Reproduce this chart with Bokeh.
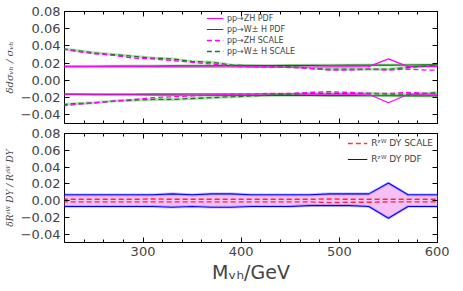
from bokeh.plotting import figure
from bokeh.layouts import column
from bokeh.models import (LinearAxis, FixedTicker, CustomJSTickFormatter, Legend,
                          LegendItem, ColumnDataSource, Range1d)
from bokeh.embed import file_html
from bokeh.resources import INLINE

# ---- data -------------------------------------------------------------
mvh = [210, 230, 250, 270, 290, 310, 330, 350, 370, 390, 410,
       430, 450, 470, 490, 510, 530, 550, 570, 590, 610]

zh_pdf_up = [0.016, 0.016, 0.016, 0.016, 0.0159, 0.0158, 0.0157, 0.0156, 0.0156, 0.0156, 0.0155,
             0.0155, 0.0155, 0.0156, 0.0157, 0.0158, 0.016, 0.025, 0.016, 0.016, 0.016]
zh_pdf_lo = [-0.016, -0.016, -0.016, -0.016, -0.0159, -0.0157, -0.0156, -0.0155, -0.0155, -0.0156, -0.0156,
             -0.0157, -0.0157, -0.0158, -0.0159, -0.016, -0.016, -0.026, -0.016, -0.016, -0.016]
wh_pdf_up = [0.0162, 0.0163, 0.0164, 0.0165, 0.0166, 0.0167, 0.0168, 0.0169, 0.017, 0.0171, 0.0172,
             0.0173, 0.0174, 0.0175, 0.0176, 0.0177, 0.0178, 0.0178, 0.0179, 0.018, 0.018]
wh_pdf_lo = [-0.0162, -0.0163, -0.0164, -0.0165, -0.0166, -0.0167, -0.0168, -0.0169, -0.017, -0.0171, -0.0172,
             -0.0173, -0.0174, -0.0175, -0.0176, -0.0177, -0.0178, -0.0178, -0.0179, -0.018, -0.018]
zh_scale_up = [0.038, 0.034, 0.031, 0.029, 0.026, 0.025, 0.023, 0.021, 0.019, 0.017, 0.016,
               0.016, 0.015, 0.014, 0.012, 0.012, 0.013, 0.012, 0.013, 0.012, 0.012]
zh_scale_lo = [-0.031, -0.028, -0.026, -0.024, -0.022, -0.020, -0.019, -0.018, -0.017, -0.016, -0.016,
               -0.015, -0.015, -0.014, -0.013, -0.014, -0.015, -0.015, -0.014, -0.015, -0.016]
wh_scale_up = [0.038, 0.035, 0.032, 0.030, 0.028, 0.026, 0.025, 0.022, 0.021, 0.018, 0.017,
               0.016, 0.016, 0.014, 0.013, 0.013, 0.013, 0.013, 0.015, 0.017, 0.019]
wh_scale_lo = [-0.029, -0.027, -0.026, -0.024, -0.023, -0.022, -0.022, -0.021, -0.020, -0.019, -0.018,
               -0.017, -0.016, -0.015, -0.015, -0.015, -0.015, -0.016, -0.016, -0.015, -0.013]

r_pdf_up = [0.007, 0.007, 0.007, 0.007, 0.007, 0.007, 0.008, 0.007, 0.008, 0.008, 0.007,
            0.007, 0.007, 0.007, 0.008, 0.008, 0.008, 0.021, 0.007, 0.007, 0.007]
r_pdf_lo = [-0.007, -0.007, -0.007, -0.007, -0.007, -0.007, -0.008, -0.007, -0.008, -0.008, -0.007,
            -0.007, -0.007, -0.006, -0.006, -0.006, -0.007, -0.021, -0.007, -0.007, -0.007]
r_scale_up = [0.0015, 0.0015, 0.0015, 0.0015, 0.0015, 0.002, 0.0015, 0.0015, 0.0015, 0.0015, 0.0015,
              0.0015, 0.0015, 0.0015, 0.002, 0.0015, 0.0015, 0.0015, 0.0015, 0.0015, 0.0015]
r_scale_lo = [-0.0015, -0.0015, -0.0015, -0.0015, -0.0015, -0.0015, -0.0015, -0.0015, -0.0015, -0.0015, -0.0015,
              -0.0015, -0.0015, -0.0015, -0.0025, -0.002, -0.002, -0.0015, -0.0015, -0.0015, -0.0015]

x_ticks = [300, 400, 500, 600]
x_minor = list(range(220, 601, 20))
y_ticks = [-0.04, -0.02, 0.0, 0.02, 0.04, 0.06, 0.08]

FONT = "DejaVu Sans"
MAG = "#ff00ff"
GRN = "#007000"
GRN_D = "#1a7a1a"
GRN_L = "#66bb66"

fmt = CustomJSTickFormatter(code="""
const s = Math.abs(tick).toFixed(2);
return (tick < -1e-9 ? '\u2212' : '') + s;
""")


def style(p, show_xlabels):
    p.outline_line_color = "black"
    p.outline_line_width = 1
    p.xgrid.visible = False
    p.ygrid.visible = False
    for ax in p.xaxis:
        ax.ticker = FixedTicker(ticks=x_ticks, minor_ticks=x_minor)
        ax.axis_line_color = None
        ax.major_tick_in = 5
        ax.major_tick_out = 0
        ax.minor_tick_in = 3
        ax.minor_tick_out = 0
        ax.major_label_text_font = FONT
        ax.major_label_text_font_size = "13px"
        if not show_xlabels:
            ax.major_label_text_color = None
        ax.major_label_standoff = 4
    for ax in p.yaxis:
        ax.ticker = FixedTicker(ticks=y_ticks, minor_ticks=[])
        ax.formatter = fmt
        ax.axis_line_color = None
        ax.major_tick_in = 5
        ax.major_tick_out = 0
        ax.minor_tick_in = 0
        ax.minor_tick_out = 0
        ax.major_label_text_font = FONT
        ax.major_label_text_font_size = "13px"
        ax.major_label_standoff = 4
    # mirrored ticks (top / right), no labels
    top = LinearAxis(ticker=FixedTicker(ticks=x_ticks, minor_ticks=x_minor),
                     axis_line_color=None, major_tick_in=5, major_tick_out=0,
                     minor_tick_in=3, minor_tick_out=0, major_label_text_color=None)
    right = LinearAxis(ticker=FixedTicker(ticks=y_ticks, minor_ticks=[]),
                       axis_line_color=None, major_tick_in=5, major_tick_out=0,
                       minor_tick_in=0, minor_tick_out=0, major_label_text_color=None)
    p.add_layout(top, "above")
    p.add_layout(right, "right")


# ---- top panel --------------------------------------------------------
p1 = figure(width=449, height=125, output_backend="svg", toolbar_location=None,
            x_range=Range1d(220, 600), y_range=Range1d(-0.05, 0.08),
            min_border_left=55, min_border_right=12, min_border_top=11, min_border_bottom=2)

src = ColumnDataSource(dict(x=mvh, zu=zh_pdf_up, zl=zh_pdf_lo, wu=wh_pdf_up, wl=wh_pdf_lo,
                            zsu=zh_scale_up, zsl=zh_scale_lo, wsu=wh_scale_up, wsl=wh_scale_lo))

# faint wide green bands under the green lines
for col in ["wu", "wl", "wsu", "wsl"]:
    p1.line("x", col, source=src, line_color=GRN_L, line_width=3, line_alpha=0.45)

r_wp = p1.line("x", "wu", source=src, line_color=GRN, line_width=1.2)
p1.line("x", "wl", source=src, line_color=GRN, line_width=1.2)
r_zp = p1.line("x", "zu", source=src, line_color=MAG, line_width=1.2)
p1.line("x", "zl", source=src, line_color=MAG, line_width=1.2)
r_ws = p1.line("x", "wsu", source=src, line_color=GRN_D, line_width=1.3, line_dash="5 3")
p1.line("x", "wsl", source=src, line_color=GRN_D, line_width=1.3, line_dash="5 3")
r_zs = p1.line("x", "zsu", source=src, line_color=MAG, line_width=1.3, line_dash="5 3")
p1.line("x", "zsl", source=src, line_color=MAG, line_width=1.3, line_dash="5 3")

leg1 = Legend(items=[
    LegendItem(label="pp\u2192ZH PDF", renderers=[r_zp]),
    LegendItem(label="pp\u2192W\u00b1 H PDF", renderers=[r_wp]),
    LegendItem(label="pp\u2192ZH SCALE", renderers=[r_zs]),
    LegendItem(label="pp\u2192W\u00b1 H SCALE", renderers=[r_ws]),
], location="top_center", background_fill_alpha=0, border_line_color=None,
    label_text_font=FONT, label_text_font_size="8px", glyph_width=17, glyph_height=10,
    label_height=10, spacing=1, padding=3, margin=2, label_standoff=4)
p1.add_layout(leg1)

p1.yaxis.axis_label = "\u03b4d\u03c3\u1d65\u2095 / \u03c3\u1d65\u2095"
p1.yaxis.axis_label_text_font = "DejaVu Serif"
p1.yaxis.axis_label_text_font_style = "italic"
p1.yaxis.axis_label_text_font_size = "10px"
p1.yaxis.axis_label_standoff = 3
style(p1, False)

# ---- bottom panel -----------------------------------------------------
p2 = figure(width=449, height=160, output_backend="svg", toolbar_location=None,
            x_range=p1.x_range, y_range=Range1d(-0.05, 0.08),
            min_border_left=55, min_border_right=12, min_border_top=8, min_border_bottom=4)

src2 = ColumnDataSource(dict(x=mvh, pu=r_pdf_up, pl=r_pdf_lo, su=r_scale_up, sl=r_scale_lo))
p2.varea(x="x", y1="pl", y2="pu", source=src2, fill_color="#ee82ee", fill_alpha=0.5)
p2.line("x", "pu", source=src2, line_color="#0000ff", line_width=3, line_alpha=0.2)
p2.line("x", "pl", source=src2, line_color="#0000ff", line_width=3, line_alpha=0.2)
r_pdf = p2.line("x", "pu", source=src2, line_color="#0000ff", line_width=1.1)
p2.line("x", "pl", source=src2, line_color="#0000ff", line_width=1.1)
r_sc = p2.line("x", "su", source=src2, line_color="#ff0000", line_width=1.4, line_dash="5 3", line_alpha=0.8)
p2.line("x", "sl", source=src2, line_color="#ff0000", line_width=1.4, line_dash="5 3", line_alpha=0.8)

leg2 = Legend(items=[
    LegendItem(label="R\u1dbb\u1d42 DY SCALE", renderers=[r_sc]),
    LegendItem(label="R\u1dbb\u1d42 DY PDF", renderers=[r_pdf]),
], location="top_right", background_fill_alpha=0, border_line_color=None,
    label_text_font=FONT, label_text_font_size="9px", glyph_width=20, glyph_height=12,
    label_height=12, spacing=4, padding=3, margin=4, label_standoff=4)
p2.add_layout(leg2)

p2.yaxis.axis_label = "\u03b4R\u1dbb\u1d42 DY / R\u1dbb\u1d42 DY"
p2.yaxis.axis_label_text_font = "DejaVu Serif"
p2.yaxis.axis_label_text_font_style = "italic"
p2.yaxis.axis_label_text_font_size = "9px"
p2.yaxis.axis_label_standoff = 3
p2.xaxis.axis_label = "M\u1d65\u2095/GeV"
p2.xaxis.axis_label_text_font = FONT
p2.xaxis.axis_label_text_font_style = "normal"
p2.xaxis.axis_label_text_font_size = "19px"
p2.xaxis.axis_label_standoff = 2
style(p2, True)

layout = column(p1, p2, spacing=0)
open("out.html", "w").write(file_html(layout, INLINE))
